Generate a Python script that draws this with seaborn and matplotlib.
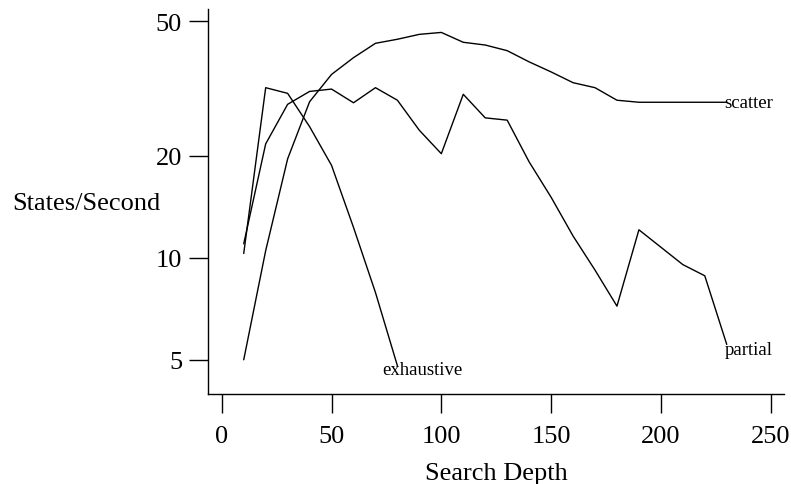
"""States/second vs search depth for three search strategies."""

import matplotlib

matplotlib.use("Agg")
import matplotlib.pyplot as plt
import matplotlib.ticker as mticker
import pandas as pd
import seaborn as sns

# values
exhaustive_depth = [10, 20, 30, 40, 50, 60, 70, 80]
exhaustive_rate = [10.3, 31.8, 30.6, 24.4, 18.75, 12.3, 7.9, 4.8]

partial_depth = [10, 20, 30, 40, 50, 60, 70, 80, 90, 100, 110, 120,
                 130, 140, 150, 160, 170, 180, 190, 200, 210, 220, 230]
partial_rate = [11.0, 21.7, 28.4, 31.0, 31.5, 28.7, 31.8, 29.2, 23.8, 20.3, 30.4, 25.9,
                25.5, 19.2, 15.1, 11.6, 9.2, 7.2, 12.1, 10.75, 9.55, 8.85, 5.55]

scatter_depth = partial_depth
scatter_rate = [5.0, 10.5, 19.6, 28.9, 34.8, 39.0, 43.0, 44.2, 45.7, 46.3, 43.3, 42.5,
                40.9, 37.9, 35.4, 32.9, 31.8, 29.2, 28.8, 28.8, 28.8, 28.8, 28.8]

x_ticks = [0, 50, 100, 150, 200, 250]
y_ticks = [5, 10, 20, 50]

# label placement (pixel offset from each line's last point)
label_offsets = {"exhaustive": (-15, -4), "partial": (-2, -5), "scatter": (-2, 0)}

frames = []
for name, xs, ys in [
    ("exhaustive", exhaustive_depth, exhaustive_rate),
    ("partial", partial_depth, partial_rate),
    ("scatter", scatter_depth, scatter_rate),
]:
    frames.append(pd.DataFrame({"depth": xs, "rate": ys, "method": name}))
df = pd.concat(frames, ignore_index=True)

sns.set_theme(style="ticks")
plt.rcParams.update(
    {
        "font.family": ["Liberation Serif", "DejaVu Serif"],
        "text.color": "black",
        "axes.labelcolor": "black",
        "axes.edgecolor": "black",
        "xtick.color": "black",
        "ytick.color": "black",
        "axes.linewidth": 1.0,
    }
)

fig = plt.figure(figsize=(7.91, 4.85), dpi=100)
ax = fig.add_axes([0.2626, 0.1862, 0.7286, 0.7932])

sns.lineplot(
    data=df,
    x="depth",
    y="rate",
    hue="method",
    palette=["black", "black", "black"],
    linewidth=1.0,
    legend=False,
    estimator=None,
    sort=False,
    ax=ax,
)

ax.set_yscale("log")
ax.set_xlim(-6.4, 256.1)
ax.set_ylim(3.97, 54.3)
ax.set_xticks(x_ticks)
ax.yaxis.set_major_locator(mticker.FixedLocator(y_ticks))
ax.yaxis.set_major_formatter(mticker.FixedFormatter([str(v) for v in y_ticks]))
ax.yaxis.set_minor_locator(mticker.NullLocator())
ax.tick_params(axis="both", which="major", length=14, width=1.0, labelsize=19)
ax.tick_params(axis="x", pad=8.5)
ax.tick_params(axis="y", pad=4.5)

ax.set_xlabel("Search Depth", fontsize=19, labelpad=11)
ax.set_ylabel("States/Second", fontsize=19, rotation=0, ha="right", va="center")
ax.yaxis.set_label_coords(-0.082, 0.495)

for name, group in df.groupby("method"):
    last = group.iloc[-1]
    dx, dy = label_offsets[name]
    ax.annotate(
        name,
        (last["depth"], last["rate"]),
        xytext=(dx, dy),
        textcoords="offset pixels",
        ha="left",
        va="center",
        fontsize=13.5,
    )

sns.despine(ax=ax)
fig.savefig("out.png", dpi=100)
